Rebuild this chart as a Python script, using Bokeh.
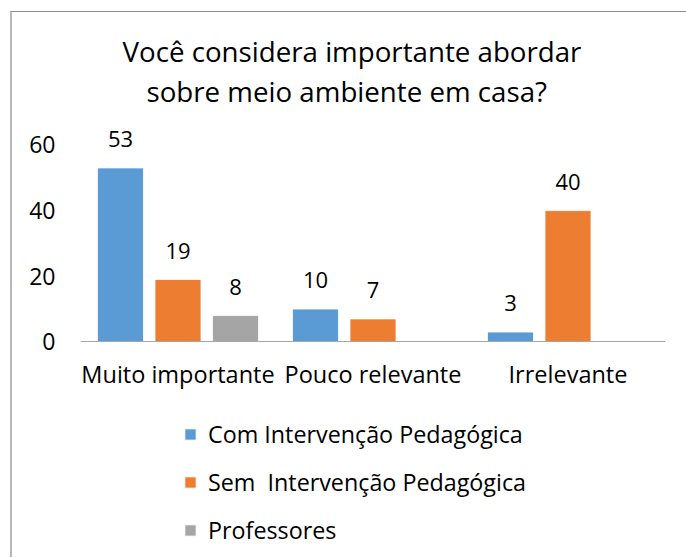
from bokeh.plotting import figure
from bokeh.models import ColumnDataSource, FixedTicker, Legend, LegendItem, Title
from bokeh.core.properties import value
from bokeh.embed import file_html
from bokeh.resources import INLINE

# ---- data ----
categories = ["Muito importante", "Pouco relevante", "Irrelevante"]
com_intervencao = [53, 10, 3]
sem_intervencao = [19, 7, 40]
professores = [8, None, None]
series_names = ["Com Intervenção Pedagógica", "Sem  Intervenção Pedagógica", "Professores"]
series_colors = ["#5B9BD5", "#ED7D31", "#A5A5A5"]
y_ticks = [0, 20, 40, 60]
title_lines = ["Você considera importante abordar", "sobre meio ambiente em  casa?"]

FONT = "Open Sans"
TXT = "#000000"

p = figure(width=676, height=546, x_range=(0, 3), y_range=(-66.0, 70.8),
           output_backend="svg", toolbar_location=None,
           min_border_left=68, min_border_right=23,
           min_border_top=97, min_border_bottom=0)
p.margin = (11, 0, 0, 10)
p.styles = {"border-top": "1px solid #8c8c8c", "border-left": "2px solid #b8b8b8"}
p.outline_line_color = None
p.xgrid.visible = False
p.ygrid.visible = False

series = [com_intervencao, sem_intervencao, professores]
offsets = [-0.295, 0.0, 0.295]
bar_w = 0.236
centers = [i + 0.5 for i in range(len(categories))]

items = []
for vals, name, color, off in zip(series, series_names, series_colors, offsets):
    xs = [c + off for c, v in zip(centers, vals) if v is not None]
    ys = [v for v in vals if v is not None]
    src = ColumnDataSource(dict(x=xs, top=ys, label=[str(v) for v in ys]))
    r = p.vbar(x="x", top="top", width=bar_w, source=src, fill_color=color,
               line_color="white", line_width=0.8)
    p.text(x="x", y="top", text="label", source=src, text_align="center",
           text_baseline="alphabetic", y_offset=-29, text_font=value(FONT),
           text_font_size="22px", text_color=TXT)
    items.append(LegendItem(label=name, renderers=[r]))

# axes
p.yaxis.ticker = FixedTicker(ticks=y_ticks)
p.yaxis.axis_line_color = None
p.yaxis.major_tick_line_color = None
p.yaxis.minor_tick_line_color = None
p.yaxis.major_label_standoff = 19
p.yaxis.major_label_text_font = FONT
p.yaxis.major_label_text_font_size = "23px"
p.yaxis.major_label_text_color = TXT

p.xaxis.fixed_location = 0
p.xaxis.ticker = FixedTicker(ticks=centers)
p.xaxis.major_label_overrides = {c: lab for c, lab in zip(centers, categories)}
p.xaxis.axis_line_color = "#a6a6a6"
p.xaxis.axis_line_width = 1
p.xaxis.major_tick_line_color = None
p.xaxis.minor_tick_line_color = None
p.xaxis.major_label_standoff = 10
p.xaxis.major_label_text_font = FONT
p.xaxis.major_label_text_font_size = "23.5px"
p.xaxis.major_label_text_color = TXT

# titles (second line added first so it sits nearer the plot)
title_offsets = [42, 66]
for line, off in reversed(list(zip(title_lines, title_offsets))):
    p.add_layout(Title(text=line, align="left", offset=off, text_font=FONT,
                       text_font_size="27.7px", text_font_style="normal",
                       text_color=TXT, standoff=0), "above")

legend = Legend(items=items, location=(103, 12), orientation="vertical",
                label_text_font=FONT, label_text_font_size="23.3px",
                label_text_color=TXT, glyph_width=14, glyph_height=14,
                label_standoff=11, spacing=16, padding=0, margin=0,
                border_line_color=None, background_fill_alpha=0)
p.add_layout(legend, "center")

open("out.html", "w").write(file_html(p, INLINE))
